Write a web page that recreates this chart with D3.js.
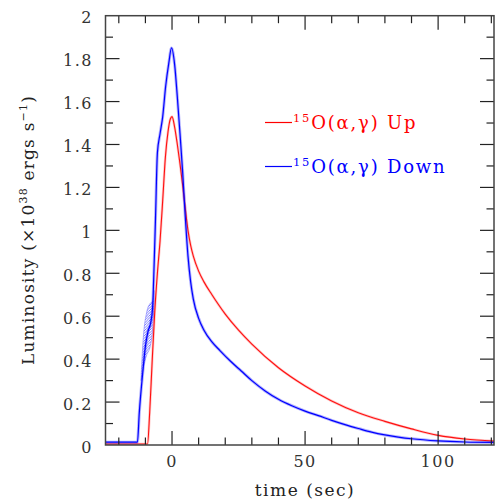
<!DOCTYPE html>
<html><head><meta charset="utf-8">
<script src="https://cdn.jsdelivr.net/npm/d3@7"></script>
<style>body{margin:0;background:#fff}</style>
</head><body>
<script>
// ---- data ----
const upT = [-25,-9.2,-8.4,-7.5,-6.5,-5.5,-4.5,-3.5,-2.5,-1.5,-0.6,0,1,2,3,4,5,6,7,8,10,12,15,20,25,30,40,50,60,70,80,90,100,110,121];
const upL = [0.005,0.005,0.15,0.38,0.62,0.80,0.95,1.14,1.34,1.46,1.52,1.53,1.48,1.40,1.31,1.21,1.10,1.00,0.93,0.88,0.81,0.76,0.70,0.61,0.535,0.47,0.36,0.275,0.205,0.15,0.11,0.075,0.045,0.028,0.018];
const downT = [-25,-13,-12.3,-10.9,-10,-9,-8,-7.3,-6.9,-6.2,-5.5,-4.5,-3.5,-2.4,-1.2,-0.2,1,2,3,4,5,6,7,8,10,12,15,18,22,26,30,35,40,45,50,55,60,65,70,75,80,85,90,100,110,121];
const downL = [0.013,0.013,0.15,0.35,0.46,0.53,0.57,0.64,0.77,1.06,1.36,1.45,1.53,1.67,1.78,1.85,1.77,1.62,1.45,1.27,1.06,0.88,0.76,0.68,0.59,0.535,0.48,0.44,0.39,0.345,0.30,0.252,0.213,0.183,0.158,0.137,0.115,0.095,0.077,0.06,0.047,0.037,0.029,0.019,0.014,0.012];
const bandT = [-11.6,-10.8,-9.5,-8.2,-7.2,-6.8];
const bandLo = [0.30,0.36,0.42,0.46,0.55,0.66];
const bandHi = [0.33,0.50,0.62,0.66,0.67,0.72];
const xTicksMajor = [0,50,100];
const yTickLabels = ["0","0.2","0.4","0.6","0.8","1","1.2","1.4","1.6","1.8","2"];
const legendLabels = ["Up","Down"];

const W=495,H=503;
const L=105.5,R=494,T=15.7,B=445;
const svg=d3.select("body").append("svg").attr("width",W).attr("height",H);
const x=d3.scaleLinear([-25,121],[L,R]);
const y=d3.scaleLinear([0,2],[B,T]);
const font="DejaVu Serif";

const defs=svg.append("defs");
defs.append("clipPath").attr("id","clip").append("rect").attr("x",L).attr("y",T).attr("width",R-L).attr("height",B-T);
const pat=defs.append("pattern").attr("id","hatch").attr("patternUnits","userSpaceOnUse").attr("width",2.5).attr("height",2.5);
pat.append("path").attr("d","M0,2.5L2.5,0M-1,1L1,-1M1.5,3.5L3.5,1.5").attr("stroke","#3030ff").attr("stroke-width",0.8);

const g=svg.append("g").attr("clip-path","url(#clip)");
const bandData=bandT.map((t,i)=>({t,lo:bandLo[i],hi:bandHi[i]}));
g.append("path").datum(bandData)
 .attr("d",d3.area().x(d=>x(d.t)).y0(d=>y(d.lo)).y1(d=>y(d.hi)).curve(d3.curveMonotoneX))
 .attr("fill","url(#hatch)").attr("fill-opacity",0.8).attr("stroke","#6060ff").attr("stroke-width",0.7).attr("stroke-opacity",0.7);

const line=d3.line().x(d=>x(d[0])).y(d=>y(d[1])).curve(d3.curveMonotoneX);
const up=upT.map((t,i)=>[t,upL[i]]);
const down=downT.map((t,i)=>[t,downL[i]]);
g.append("path").datum(up).attr("d",line).attr("fill","none").attr("stroke","#ff0000").attr("stroke-opacity",0.22).attr("stroke-width",2.6);
g.append("path").datum(up).attr("d",line).attr("fill","none").attr("stroke","#ff1010").attr("stroke-width",1.1);
g.append("path").datum(down).attr("d",line).attr("fill","none").attr("stroke","#0000ff").attr("stroke-opacity",0.3).attr("stroke-width",3);
g.append("path").datum(down).attr("d",line).attr("fill","none").attr("stroke","#0000ff").attr("stroke-width",1.2);

// axes ticks and frame
const tickCol="#222";
const ax=svg.append("g");
d3.range(-20,121,10).forEach(v=>{
  const len = v%50===0?14:7.5;
  ax.append("line").attr("x1",x(v)).attr("x2",x(v)).attr("y1",B).attr("y2",B-len).attr("stroke",tickCol).attr("stroke-width",1.2);
  ax.append("line").attr("x1",x(v)).attr("x2",x(v)).attr("y1",T).attr("y2",T+len).attr("stroke",tickCol).attr("stroke-width",1.2);
});
y.ticks(20).forEach(v=>{
  if(v<=0||v>=2) return;
  const len = (Math.round(v*10)%2===0)?14:7.5;
  ax.append("line").attr("y1",y(v)).attr("y2",y(v)).attr("x1",L).attr("x2",L+len).attr("stroke",tickCol).attr("stroke-width",1.2);
  ax.append("line").attr("y1",y(v)).attr("y2",y(v)).attr("x1",R).attr("x2",R-len).attr("stroke",tickCol).attr("stroke-width",1.2);
});
svg.append("rect").attr("x",L).attr("y",T).attr("width",R-L).attr("height",B-T).attr("fill","none").attr("stroke","#444").attr("stroke-width",1.5);

// tick labels
xTicksMajor.forEach(v=>{
  svg.append("text").attr("x",x(v)).attr("y",467).attr("text-anchor","middle")
   .attr("font-family",font).attr("font-size",16).attr("letter-spacing",1.5).attr("fill","#333").text(v);
});
yTickLabels.forEach((s,i)=>{
  svg.append("text").attr("x",93).attr("y",y(i*0.2)+7.5).attr("text-anchor","end")
   .attr("font-family",font).attr("font-size",16).attr("letter-spacing",1.5).attr("fill","#333").text(s);
});

// axis titles
svg.append("text").attr("x",305).attr("y",496).attr("text-anchor","middle")
 .attr("font-family",font).attr("font-size",17).attr("letter-spacing",1.5).attr("fill","#222").text("time (sec)");
const yl=svg.append("text").attr("transform","translate(34,230) rotate(-90)").attr("text-anchor","middle")
 .attr("font-family",font).attr("font-size",17).attr("letter-spacing",1.2).attr("fill","#222");
yl.append("tspan").text("Luminosity (×10");
yl.append("tspan").attr("font-size",11).attr("dy",-7).text("38");
yl.append("tspan").attr("dy",7).text(" ergs s");
yl.append("tspan").attr("font-size",11).attr("dy",-7).text("−1");
yl.append("tspan").attr("dy",7).text(")");

// legend
const legY=[122.5,166.5], legC=["#ff0000","#0000ff"];
legendLabels.forEach((lab,i)=>{
  svg.append("line").attr("x1",265).attr("x2",292).attr("y1",legY[i]).attr("y2",legY[i]).attr("stroke",legC[i]).attr("stroke-width",1.2);
  const t=svg.append("text").attr("x",293).attr("y",legY[i]+6.5).attr("font-family",font).attr("font-size",18).attr("letter-spacing",1.8).attr("fill",legC[i]);
  t.append("tspan").attr("font-size",11.5).attr("dy",-7).text("15");
  t.append("tspan").attr("dy",7).text("O(α,γ)  "+lab);
});
</script>
</body></html>
